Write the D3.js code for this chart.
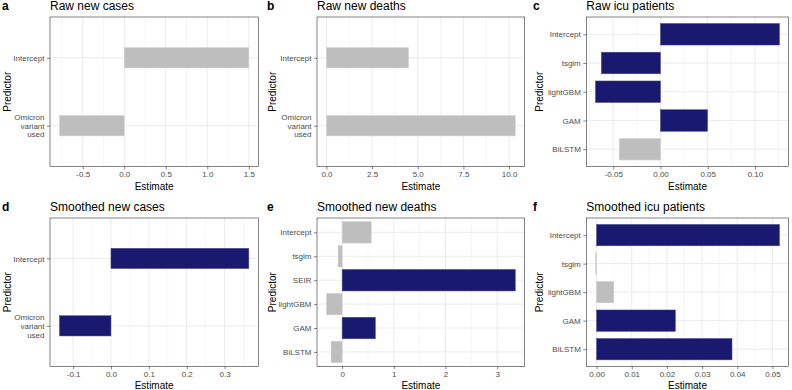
<!DOCTYPE html>
<html>
<head>
<meta charset="utf-8">
<script src="https://cdn.jsdelivr.net/npm/d3@7"></script>
<style>
  body { margin: 0; background: #fff; }
  svg { display: block; font-family: "Liberation Sans", Arial, sans-serif; }
</style>
</head>
<body>
<div id="chart"></div>
<script>
// ---- data (categories listed top to bottom) ----
const tags = ["a", "b", "c", "d", "e", "f"];
const titles = ["Raw new cases", "Raw new deaths", "Raw icu patients",
                "Smoothed new cases", "Smoothed new deaths", "Smoothed icu patients"];

const twoPredictors = ["Intercept", "Omicron\nvariant\nused"];
const icuPredictors = ["Intercept", "tsglm", "lightGBM", "GAM", "BiLSTM"];
const deathPredictors = ["Intercept", "tsglm", "SEIR", "lightGBM", "GAM", "BiLSTM"];

const rawCases = [1.5, -0.78];
const rawDeaths = [4.5, 10.34];
const rawIcu = [0.126, -0.0626, -0.0688, 0.0498, -0.0436];
const smoothCases = [0.364, -0.136];
const smoothDeaths = [0.565, -0.078, 3.35, -0.304, 0.643, -0.214];
const smoothIcu = [0.052, -0.0003, 0.0049, 0.0224, 0.0385];

// significant = dark bar, otherwise grey
const rawCasesSig = [false, false];
const rawDeathsSig = [false, false];
const rawIcuSig = [true, true, true, true, false];
const smoothCasesSig = [true, true];
const smoothDeathsSig = [false, false, true, false, true, false];
const smoothIcuSig = [true, false, false, true, true];

const rawCasesTicks = [-0.5, 0, 0.5, 1.0, 1.5];
const rawDeathsTicks = [0, 2.5, 5, 7.5, 10];
const rawIcuTicks = [-0.05, 0, 0.05, 0.10];
const smoothCasesTicks = [-0.1, 0, 0.1, 0.2, 0.3];
const smoothDeathsTicks = [0, 1, 2, 3];
const smoothIcuTicks = [0, 0.01, 0.02, 0.03, 0.04, 0.05];
const tickDigits = [1, 1, 2, 1, 0, 2];

const predictorSets = [twoPredictors, twoPredictors, icuPredictors, twoPredictors, deathPredictors, icuPredictors];
const valueSets = [rawCases, rawDeaths, rawIcu, smoothCases, smoothDeaths, smoothIcu];
const sigSets = [rawCasesSig, rawDeathsSig, rawIcuSig, smoothCasesSig, smoothDeathsSig, smoothIcuSig];
const tickSets = [rawCasesTicks, rawDeathsTicks, rawIcuTicks, smoothCasesTicks, smoothDeathsTicks, smoothIcuTicks];

const W = 792, H = 390;
const colX = [[50, 258.3], [317, 524.7], [586.3, 788.7]];
const rowY = [[17, 166.5], [218, 366.3]];
const tagX = [2, 267, 533];
const ylabX = [7, 272, 539];

const navy = "#191970", grey = "#bebebe", gridCol = "#ebebeb", axisCol = "#333333";

const svg = d3.select("#chart").append("svg").attr("width", W).attr("height", H);

tags.forEach((tag, i) => {
    const col = i % 3, row = Math.floor(i / 3);
    const [x0, x1] = colX[col];
    const [y0, y1] = rowY[row];
    const cats = predictorSets[i], vals = valueSets[i], sig = sigSets[i], ticks = tickSets[i];

    // ggplot style 5% expansion, bars always include zero
    const lo = Math.min(0, d3.min(vals)), hi = Math.max(0, d3.max(vals));
    const pad = (hi - lo) * 0.05;
    const x = d3.scaleLinear().domain([lo - pad, hi + pad]).range([x0, x1]);
    const y = d3.scalePoint().domain(cats).range([y0, y1]).padding(0.6);
    const barH = 0.15 * cats.length * y.step();

    const g = svg.append("g");

    // minor grid
    const step = ticks[1] - ticks[0];
    const minors = [ticks[0] - step / 2, ...ticks.map(t => t + step / 2)]
        .filter(v => v >= x.domain()[0] && v <= x.domain()[1]);
    g.selectAll(".minor").data(minors).join("line")
        .attr("x1", d => x(d)).attr("x2", d => x(d)).attr("y1", y0).attr("y2", y1)
        .attr("stroke", gridCol).attr("stroke-width", 0.5);
    // major grid
    g.selectAll(".majorx").data(ticks).join("line")
        .attr("x1", d => x(d)).attr("x2", d => x(d)).attr("y1", y0).attr("y2", y1)
        .attr("stroke", gridCol).attr("stroke-width", 1);
    g.selectAll(".majory").data(cats).join("line")
        .attr("x1", x0).attr("x2", x1).attr("y1", d => y(d)).attr("y2", d => y(d))
        .attr("stroke", gridCol).attr("stroke-width", 1);

    // bars
    g.selectAll(".bar").data(vals).join("rect")
        .attr("x", d => x(Math.min(0, d)))
        .attr("width", d => Math.abs(x(d) - x(0)))
        .attr("y", (d, j) => y(cats[j]) - barH / 2)
        .attr("height", barH)
        .attr("fill", (d, j) => sig[j] ? navy : grey)
        .attr("stroke", (d, j) => sig[j] ? "#4a4a8c" : "#d4d4d4")
        .attr("stroke-width", 0.5);

    // panel border
    g.append("rect").attr("x", x0).attr("y", y0).attr("width", x1 - x0).attr("height", y1 - y0)
        .attr("fill", "none").attr("stroke", axisCol).attr("stroke-width", 0.6);

    // x axis
    const xAxis = d3.axisBottom(x).tickValues(ticks).tickSize(3).tickPadding(2)
        .tickFormat(d => d.toFixed(tickDigits[i]));
    const gx = g.append("g").attr("transform", `translate(0,${y1})`).call(xAxis);
    gx.select(".domain").remove();
    gx.selectAll(".tick line").attr("stroke", axisCol).attr("stroke-width", 0.6);
    gx.selectAll(".tick text").attr("fill", "#4d4d4d").attr("font-size", 8)
        .attr("font-family", "Liberation Sans, Arial, sans-serif");

    // y axis
    const yAxis = d3.axisLeft(y).tickSize(3).tickPadding(2).tickFormat("");
    const gy = g.append("g").attr("transform", `translate(${x0},0)`).call(yAxis);
    gy.select(".domain").remove();
    gy.selectAll(".tick line").attr("stroke", axisCol).attr("stroke-width", 0.6);
    gy.selectAll(".tick").each(function (d) {
        const lines = d.split("\n");
        const t = d3.select(this).append("text")
            .attr("x", -5.5).attr("text-anchor", "end")
            .attr("fill", "#4d4d4d").attr("font-size", 8);
        lines.forEach((ln, k) => {
            t.append("tspan").attr("x", -5.5)
                .attr("y", (k - (lines.length - 1) / 2) * 8.6)
                .attr("dy", "0.32em").text(ln);
        });
    });

    // axis titles
    g.append("text").attr("x", (x0 + x1) / 2).attr("y", y1 + 23)
        .attr("text-anchor", "middle").attr("font-size", 10).attr("fill", "#000").text("Estimate");
    g.append("text")
        .attr("transform", `translate(${ylabX[col] + 3.5},${(y0 + y1) / 2}) rotate(-90)`)
        .attr("text-anchor", "middle").attr("font-size", 10).attr("fill", "#000").text("Predictor");

    // title and tag
    g.append("text").attr("x", x0).attr("y", y0 - 7)
        .attr("font-size", 12).attr("fill", "#000").text(titles[i]);
    g.append("text").attr("x", tagX[col]).attr("y", y0 - 7)
        .attr("font-size", 12).attr("font-weight", "bold").attr("fill", "#000").text(tag);
});
</script>
</body>
</html>
